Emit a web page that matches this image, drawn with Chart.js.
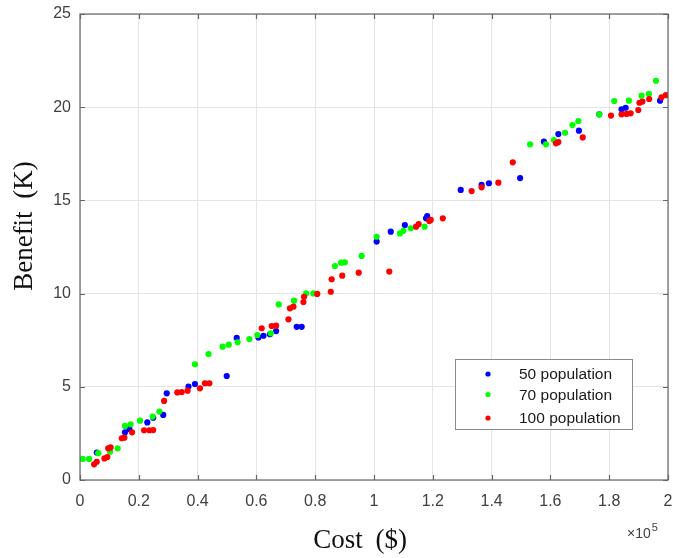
<!DOCTYPE html>
<html>
<head>
<meta charset="utf-8">
<title>Benefit vs Cost</title>
<script src="https://cdn.jsdelivr.net/npm/chart.js@4/dist/chart.umd.min.js"></script>
<style>
  html, body { margin: 0; padding: 0; background: #fff; }
  #wrap { width: 673px; height: 558px; }
</style>
</head>
<body>
<div id="wrap"><canvas id="chart" width="673" height="558"></canvas></div>
<script>
// cost in $, benefit in K
const cost50 = [5700, 15300, 16800, 22900, 24900, 28300, 29500, 36900, 39100, 49900, 53300, 60700, 62400, 64600, 66700, 73700, 75400, 100900, 105700, 110500, 117700, 118100, 129500, 136600, 139100, 149700, 157800, 162700, 169700, 176600, 184200, 185600, 197300];
const benefit50 = [1.47, 2.56, 2.74, 3.09, 3.34, 3.49, 4.65, 5.01, 5.15, 5.58, 7.62, 7.65, 7.74, 7.82, 7.99, 8.22, 8.22, 12.79, 13.32, 13.68, 14.04, 14.16, 15.56, 15.83, 15.92, 16.20, 18.15, 18.56, 18.74, 19.62, 19.89, 19.97, 20.35];

const cost70 = [900, 3100, 6200, 10200, 12800, 15300, 17200, 20400, 24700, 27000, 39100, 43700, 48500, 50600, 53600, 57600, 60300, 64900, 67600, 72800, 76900, 79400, 86700, 88800, 90100, 95800, 100900, 108800, 110000, 112500, 117200, 153100, 158500, 161200, 165000, 167500, 169500, 176600, 181700, 186700, 191000, 193500, 195900];
const benefit70 = [1.13, 1.13, 1.44, 1.52, 1.70, 2.90, 2.99, 3.18, 3.40, 3.67, 6.21, 6.76, 7.15, 7.26, 7.39, 7.56, 7.78, 7.87, 9.42, 9.62, 10.01, 10.01, 11.48, 11.66, 11.68, 12.02, 13.05, 13.23, 13.37, 13.50, 13.59, 18.01, 18.01, 18.24, 18.63, 19.04, 19.26, 19.62, 20.33, 20.35, 20.62, 20.71, 21.42];

const cost100 = [4800, 5700, 8300, 9300, 9600, 10400, 14200, 15100, 17700, 21800, 23600, 24900, 28600, 33100, 34600, 36600, 40800, 42500, 44000, 61800, 65200, 66700, 70900, 71400, 72600, 76000, 76200, 80700, 85300, 85600, 89200, 94800, 105200, 114300, 115200, 118800, 119300, 123400, 133200, 136600, 142300, 147200, 161900, 162700, 171000, 180600, 184200, 185900, 187300, 189900, 190300, 191300, 193600, 197800, 199300];
const benefit100 = [0.84, 0.98, 1.16, 1.23, 1.70, 1.75, 2.24, 2.27, 2.56, 2.67, 2.67, 2.68, 4.24, 4.70, 4.72, 4.79, 4.92, 5.19, 5.19, 8.14, 8.26, 8.28, 8.62, 9.21, 9.30, 9.55, 9.83, 9.98, 10.10, 10.77, 10.96, 11.12, 11.18, 13.59, 13.73, 13.89, 13.95, 14.04, 15.50, 15.70, 15.95, 17.04, 18.06, 18.13, 18.38, 19.55, 19.62, 19.64, 19.67, 19.85, 20.24, 20.30, 20.44, 20.53, 20.65];

const seriesLabels = ["50 population", "70 population", "100 population"];
const seriesColors = ["#0000ff", "#00ff00", "#ff0000"];

const xMin = 0, xMax = 200000, xStep = 20000;
const yMin = 0, yMax = 25, yStep = 5;

const toPoints = (xs, ys) => xs.map((x, i) => ({ x, y: ys[i] }));

const AXIS_COLOR = "#666";
const TICK_COLOR = "#404040";
const SANS = "Arial, 'Liberation Sans', sans-serif";
const SERIF = "'Times New Roman', 'Liberation Serif', serif";

// box around the axes with inward tick marks, like a matlab figure
const frame = {
  id: "frame",
  afterDatasetsDraw(chart) {
    const { ctx, chartArea: a, scales } = chart;
    ctx.save();
    ctx.strokeStyle = AXIS_COLOR;
    ctx.lineWidth = 1.2;
    ctx.strokeRect(a.left, a.top, a.right - a.left, a.bottom - a.top);
    ctx.beginPath();
    scales.x.ticks.forEach((t) => {
      const px = Math.round(scales.x.getPixelForValue(t.value)) + 0.5;
      ctx.moveTo(px, a.bottom); ctx.lineTo(px, a.bottom - 5);
      ctx.moveTo(px, a.top); ctx.lineTo(px, a.top + 5);
    });
    scales.y.ticks.forEach((t) => {
      const py = Math.round(scales.y.getPixelForValue(t.value)) + 0.5;
      ctx.moveTo(a.left, py); ctx.lineTo(a.left + 5, py);
      ctx.moveTo(a.right, py); ctx.lineTo(a.right - 5, py);
    });
    ctx.stroke();
    ctx.restore();
  },
  afterDraw(chart) {
    const { ctx } = chart;
    ctx.save();
    ctx.fillStyle = "#111";
    ctx.font = "27px " + SERIF;
    ctx.wordSpacing = "6px";
    ctx.textAlign = "center";
    ctx.textBaseline = "alphabetic";
    ctx.fillText("Cost ($)", 360, 548);
    ctx.translate(32, 226);
    ctx.rotate(-Math.PI / 2);
    ctx.fillText("Benefit (K)", 0, 0);
    ctx.restore();

    // exponent label for the x axis
    ctx.save();
    ctx.fillStyle = TICK_COLOR;
    ctx.textBaseline = "alphabetic";
    ctx.font = "14px " + SANS;
    const base = "\u00d710";
    ctx.fillText(base, 627, 538);
    const w = ctx.measureText(base).width;
    ctx.font = "11px " + SANS;
    ctx.fillText("5", 627 + w + 1, 531);
    ctx.restore();
  }
};

// legend box inside the plot
const boxLegend = {
  id: "boxLegend",
  afterDraw(chart) {
    const { ctx } = chart;
    const rows = [374, 394.5, 418];
    ctx.save();
    ctx.fillStyle = "#fff";
    ctx.fillRect(455, 359, 178, 71);
    ctx.strokeStyle = "#8a8a8a";
    ctx.lineWidth = 1;
    ctx.strokeRect(455.5, 359.5, 177, 70);
    ctx.font = "15.5px " + SANS;
    ctx.textBaseline = "middle";
    seriesLabels.forEach((label, i) => {
      ctx.fillStyle = seriesColors[i];
      ctx.beginPath();
      ctx.arc(488, rows[i], 2.6, 0, Math.PI * 2);
      ctx.fill();
      ctx.fillStyle = "#1a1a1a";
      ctx.fillText(label, 519, rows[i] + 1);
    });
    ctx.restore();
  }
};

const mkSet = (i, xs, ys, order) => ({
  label: seriesLabels[i],
  data: toPoints(xs, ys),
  backgroundColor: seriesColors[i],
  borderWidth: 0,
  pointRadius: 3.1,
  order
});

// fixed axis sizes so the plot box lands at 80..668 x 14..480
const noPad = (s) => { s.paddingLeft = 0; s.paddingRight = 0; s.paddingTop = 0; s.paddingBottom = 0; };

new Chart(document.getElementById("chart"), {
  type: "scatter",
  data: {
    datasets: [
      mkSet(0, cost50, benefit50, 3),
      mkSet(1, cost70, benefit70, 2),
      mkSet(2, cost100, benefit100, 1)
    ]
  },
  options: {
    responsive: false,
    animation: false,
    events: [],
    layout: { padding: { top: 14, right: 5, left: 0, bottom: 0 } },
    plugins: { legend: { display: false }, tooltip: { enabled: false } },
    scales: {
      x: {
        type: "linear",
        min: xMin,
        max: xMax,
        afterFit: (s) => { s.height = 78; noPad(s); },
        grid: { color: "#e4e4e4", drawTicks: false },
        border: { display: false },
        ticks: {
          stepSize: xStep,
          padding: 12,
          color: TICK_COLOR,
          font: { family: SANS, size: 16 },
          callback: (v) => String(Math.round(v / 10000) / 10)
        }
      },
      y: {
        type: "linear",
        min: yMin,
        max: yMax,
        afterFit: (s) => { s.width = 80; noPad(s); },
        grid: { color: "#e4e4e4", drawTicks: false },
        border: { display: false },
        ticks: {
          stepSize: yStep,
          padding: 9,
          color: TICK_COLOR,
          font: { family: SANS, size: 16 }
        }
      }
    }
  },
  plugins: [frame, boxLegend]
});
</script>
</body>
</html>
